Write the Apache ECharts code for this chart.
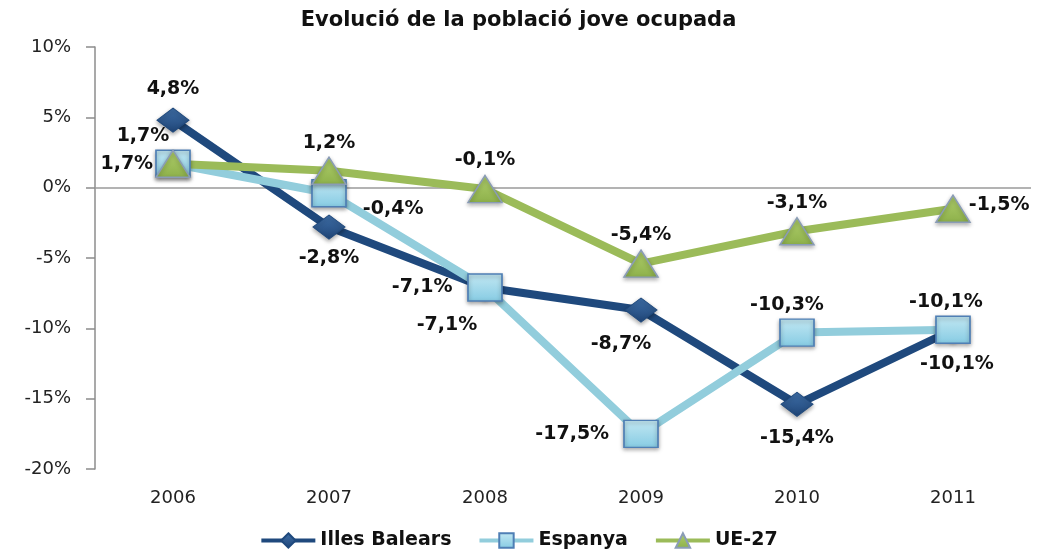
<!DOCTYPE html>
<html>
<head>
<meta charset="utf-8">
<script src="https://cdn.jsdelivr.net/npm/echarts@6/dist/echarts.min.js"></script>
<style>
  html, body { margin: 0; padding: 0; background: #fff; }
  #chart { width: 1037px; height: 556px; }
</style>
</head>
<body>
<div id="chart"></div>
<script>
const years = ["2006", "2007", "2008", "2009", "2010", "2011"];
const illesBalears = [4.8, -2.8, -7.1, -8.7, -15.4, -10.1];
const espanya = [1.7, -0.4, -7.1, -17.5, -10.3, -10.1];
const ue27 = [1.7, 1.2, -0.1, -5.4, -3.1, -1.5];

// where each data label sits, per series
const ibLabels = [
  { position: "top", distance: 9 },
  { position: "bottom", distance: 9 },
  { position: "left", distance: 16 },
  { position: "bottom", distance: 12, offset: [-20, 0] },
  { position: "bottom", distance: 12 },
  { position: "bottom", distance: 12, offset: [4, 0] }
];
const esLabels = [
  { position: "left", distance: 2 },
  { position: "right", distance: 16, offset: [0, 16] },
  { position: "bottom", distance: 14, offset: [-38, 0] },
  { position: "left", distance: 14 },
  { position: "top", distance: 4, offset: [-10, 0] },
  { position: "top", distance: 4, offset: [-7, 0] }
];
const ueLabels = [
  { position: "top", distance: 4, offset: [-30, 0] },
  { position: "top", distance: 4 },
  { position: "top", distance: 5 },
  { position: "top", distance: 5 },
  { position: "top", distance: 5 },
  { position: "right", distance: -2, offset: [0, -4] }
];

const fmt = (v) => v.toFixed(1).replace(".", ",") + "%";
const labelFont = { fontFamily: "DejaVu Sans", fontWeight: "bold", fontSize: 19, color: "#111" };

function withLabels(values, labels) {
  return values.map((v, i) => ({ value: v, label: labels[i] }));
}

const chart = echarts.init(document.getElementById("chart"));
chart.setOption({
  animation: false,
  title: {
    text: "Evolució de la població jove ocupada",
    left: "center",
    top: 5,
    textStyle: { fontFamily: "DejaVu Sans", fontWeight: "bold", fontSize: 21, color: "#111" }
  },
  grid: { left: 95, right: 6, top: 47, bottom: 87 },
  legend: {
    bottom: 1,
    left: "center",
    itemWidth: 54,
    itemHeight: 18,
    itemGap: 26,
    lineStyle: { width: 4 },
    textStyle: { fontFamily: "DejaVu Sans", fontWeight: "bold", fontSize: 19, color: "#111" },
    data: ["Illes Balears", "Espanya", "UE-27"]
  },
  xAxis: {
    type: "category",
    data: years,
    axisLine: { show: false },
    axisTick: { show: false },
    axisLabel: { margin: 20, fontFamily: "DejaVu Sans", fontSize: 18, color: "#222" }
  },
  yAxis: {
    type: "value",
    min: -20,
    max: 10,
    interval: 5,
    axisLine: { show: true, lineStyle: { color: "#8c8c8c", width: 1.5 } },
    axisTick: { show: true, length: 9, lineStyle: { color: "#8c8c8c", width: 1.5 } },
    splitLine: { show: false },
    axisLabel: {
      margin: 24,
      fontFamily: "DejaVu Sans",
      fontSize: 18,
      color: "#222",
      formatter: (v) => v + "%"
    }
  },
  series: [
    {
      name: "Illes Balears",
      type: "line",
      data: withLabels(illesBalears, ibLabels),
      symbol: "diamond",
      symbolSize: [32, 24],
      lineStyle: { color: "#1f497d", width: 8 },
      itemStyle: {
        color: new echarts.graphic.LinearGradient(0, 0, 0, 1, [
          { offset: 0, color: "#3f6fa8" },
          { offset: 1, color: "#1f4577" }
        ]),
        borderColor: "#1f497d",
        borderWidth: 1,
        shadowColor: "rgba(0,0,0,0.35)",
        shadowBlur: 4,
        shadowOffsetY: 2
      },
      label: { show: true, formatter: (p) => fmt(p.value), ...labelFont },
      markLine: {
        silent: true,
        symbol: "none",
        label: { show: false },
        lineStyle: { color: "#9a9a9a", width: 1.5, type: "solid" },
        data: [{ yAxis: 0 }],
        z: 1
      }
    },
    {
      name: "Espanya",
      type: "line",
      data: withLabels(espanya, esLabels),
      symbol: "rect",
      symbolSize: [34, 27],
      lineStyle: { color: "#92cddc", width: 8 },
      itemStyle: {
        color: new echarts.graphic.LinearGradient(0, 0, 0, 1, [
          { offset: 0, color: "#c3e8f3" },
          { offset: 1, color: "#86cbe3" }
        ]),
        borderColor: "#4f7fb5",
        borderWidth: 1.5,
        shadowColor: "rgba(0,0,0,0.35)",
        shadowBlur: 4,
        shadowOffsetY: 2
      },
      label: { show: true, formatter: (p) => fmt(p.value), ...labelFont }
    },
    {
      name: "UE-27",
      type: "line",
      data: withLabels(ue27, ueLabels),
      symbol: "triangle",
      symbolSize: [34, 27],
      lineStyle: { color: "#9bbb59", width: 8 },
      itemStyle: {
        color: new echarts.graphic.LinearGradient(0, 0, 0, 1, [
          { offset: 0, color: "#b0cf6c" },
          { offset: 1, color: "#8db04a" }
        ]),
        borderColor: "#8a9cb6",
        borderWidth: 1.5,
        shadowColor: "rgba(0,0,0,0.3)",
        shadowBlur: 4,
        shadowOffsetY: 2
      },
      label: { show: true, formatter: (p) => fmt(p.value), ...labelFont }
    }
  ]
});
</script>
</body>
</html>
